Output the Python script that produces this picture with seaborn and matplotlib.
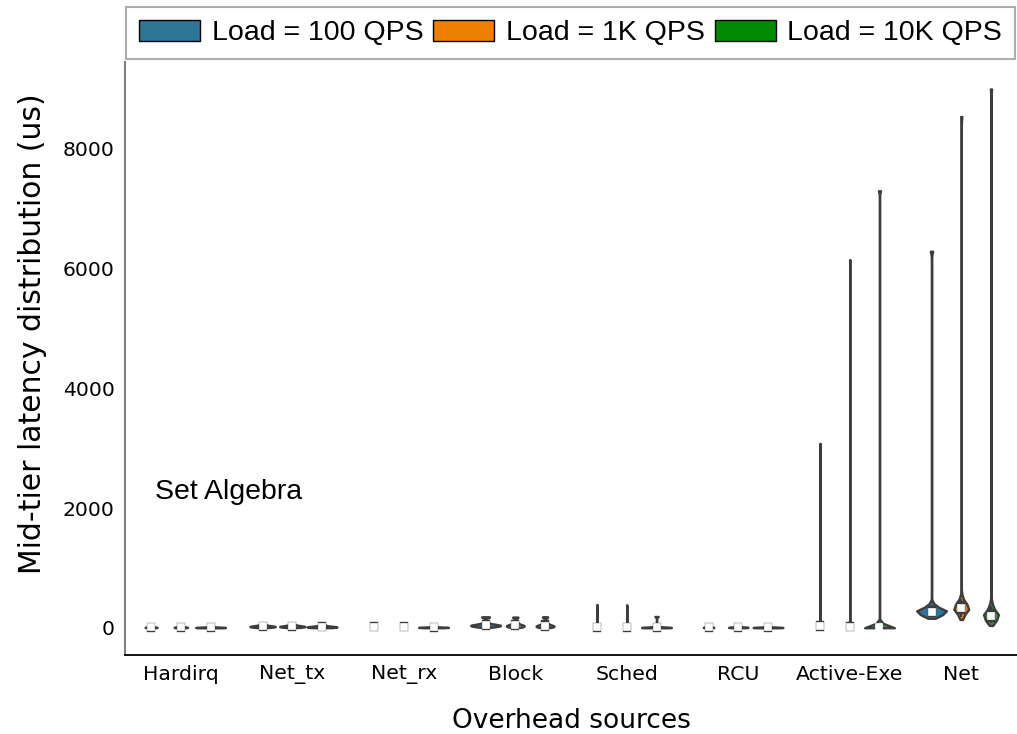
import pandas as pd
import seaborn as sns
import matplotlib.pyplot as plt
from matplotlib.patches import Patch

sns.set_style("white")
plt.rcParams['font.family'] = ['DejaVu Sans']
plt.rcParams['text.color'] = 'black'
plt.rcParams['axes.labelcolor'] = 'black'
plt.rcParams['xtick.color'] = 'black'
plt.rcParams['ytick.color'] = 'black'

# Overhead sources on the x axis and the three load levels
sources = ['Hardirq', 'Net_tx', 'Net_rx', 'Block', 'Sched', 'RCU', 'Active-Exe', 'Net']
loads = ['Load = 100 QPS', 'Load = 1K QPS', 'Load = 10K QPS']

# Latency samples (us): one list per load (100, 1K, 10K)
hardirq = [
    [2, 4, 5, 6, 7, 8, 9, 10, 12, 15, 20, 35],
    [2, 3, 5, 6, 7, 8, 9, 11, 13, 16, 22, 40],
    [1, 2, 3, 4, 5, 6, 7, 8, 10, 12, 15, 30],
]
net_tx = [
    [5, 10, 14, 18, 20, 22, 25, 28, 32, 38, 45, 60],
    [5, 10, 14, 18, 20, 22, 25, 28, 32, 38, 45, 60],
    [3, 6, 9, 12, 14, 16, 18, 20, 24, 30, 38, 50],
]
net_rx = [
    [5, 8, 10, 12, 15, 18, 22, 28, 35, 45, 60, 80],
    [4, 7, 9, 11, 14, 17, 20, 25, 32, 40, 55, 70],
    [2, 4, 5, 6, 7, 8, 9, 10, 12, 15, 20, 30],
]
block = [
    [10, 20, 25, 30, 35, 40, 42, 45, 50, 55, 65, 80, 175, 185],
    [8, 15, 20, 25, 30, 35, 40, 45, 50, 60, 75, 90, 170, 180],
    [5, 10, 15, 20, 25, 30, 35, 40, 45, 55, 70, 85, 175, 185],
]
sched = [
    [1, 2, 3, 4, 5, 6, 8, 10, 12, 15, 20, 30, 390],
    [1, 2, 3, 4, 5, 6, 8, 10, 12, 15, 20, 30, 385],
    [1, 2, 3, 4, 5, 6, 7, 8, 10, 12, 15, 25, 190],
]
rcu = [
    [2, 4, 5, 6, 7, 8, 9, 10, 12, 14, 18, 30],
    [2, 4, 5, 6, 7, 8, 9, 10, 12, 15, 20, 35],
    [1, 2, 3, 4, 5, 6, 7, 8, 10, 12, 16, 30],
]
active_exe = [
    [5, 10, 12, 15, 18, 20, 22, 25, 28, 30, 35, 40, 50, 60, 80, 100, 3080],
    [3, 6, 8, 10, 12, 14, 16, 18, 20, 22, 25, 28, 35, 45, 60, 80, 6150],
    [2, 4, 5, 6, 7, 8, 9, 10, 11, 12, 14, 15, 18, 22, 28, 40, 7300],
]
net = [
    [160, 190, 210, 225, 240, 250, 255, 260, 265, 270, 272, 275, 280,
     285, 290, 300, 315, 335, 360, 400, 6290],
    [140, 200, 240, 270, 290, 300, 310, 320, 325, 330, 335, 340, 350,
     360, 375, 390, 420, 460, 510, 8540],
    [40, 100, 130, 150, 165, 175, 185, 190, 195, 200, 205, 210, 220,
     230, 245, 265, 300, 350, 410, 9000],
]
samples = [hardirq, net_tx, net_rx, block, sched, rcu, active_exe, net]

# relative violin width inside its slot and kernel bandwidth per source (style only)
violin_scale = [
    [0.4, 0.45, 1.0],
    [0.85, 0.85, 1.0],
    [0.15, 0.15, 1.0],
    [1.0, 0.6, 0.6],
    [0.12, 0.12, 1.0],
    [0.35, 0.65, 1.0],
    [0.15, 0.15, 1.0],
    [1.0, 0.5, 0.5],
]
bw_per_source = [1.0, 1.0, 0.8, 0.45, 0.2, 1.0, 0.035, 0.06]

violin_colors = ['#1f77b4', '#ff7f0e', '#2ca02c']
legend_colors = ['#2c7696', '#ee8000', '#008a00']

rows = []
for src, per_load in zip(sources, samples):
    for load, vals in zip(loads, per_load):
        for v in vals:
            rows.append({'source': src, 'load': load, 'latency': v})
df = pd.DataFrame(rows)

fig = plt.figure(figsize=(10.17, 7.34), dpi=100)
ax = fig.add_axes([0.123, 0.108, 0.877, 0.8075])

for i, src in enumerate(sources):
    for j, load in enumerate(loads):
        sub = df[(df['source'] == src) & (df['load'] == load)]
        sns.violinplot(data=sub, x='source', y='latency', hue='load',
                       order=sources, hue_order=loads, palette=violin_colors,
                       dodge=True, gap=1 - violin_scale[i][j], cut=0,
                       bw_adjust=bw_per_source[i], density_norm='width',
                       inner='box',
                       inner_kws=dict(box_width=6, whis_width=1.4, marker='s',
                                      markeredgecolor='#3f3f3f',
                                      solid_capstyle='projecting'),
                       linewidth=1.7, legend=False, ax=ax)

ax.set_xlabel('Overhead sources', fontsize=19, labelpad=17)
ax.set_ylabel('Mid-tier latency distribution (us)', fontsize=21.5)
ax.yaxis.set_label_coords(-0.087, 0.541)
ax.tick_params(axis='both', labelsize=14.7, length=4, color='#555555')
ax.set_yticks([0, 2000, 4000, 6000, 8000])
ax.set_xlim(-0.5, len(sources) - 0.5)

sns.despine(ax=ax)
ax.spines['left'].set_color('#808080')
ax.spines['left'].set_linewidth(1.5)
ax.spines['bottom'].set_color('black')
ax.spines['bottom'].set_linewidth(1.3)

ax.text(-0.23, 2276, 'Set Algebra', fontsize=20.5, family='Liberation Sans',
        ha='left', va='center')

handles = [Patch(facecolor=c, edgecolor='black', label=l)
           for c, l in zip(legend_colors, loads)]
leg = fig.legend(handles=handles, loc='upper left', bbox_to_anchor=(0.124, 0.9905),
                 ncol=3, frameon=True, fancybox=False, borderaxespad=0,
                 prop={'family': 'Liberation Sans', 'size': 20.5},
                 handlelength=2.15, handleheight=0.76, handletextpad=0.4,
                 columnspacing=0.35, borderpad=0.45)
leg.get_frame().set_edgecolor('#999999')
leg.get_frame().set_linewidth(1.5)

fig.savefig('out.png', dpi=100)
